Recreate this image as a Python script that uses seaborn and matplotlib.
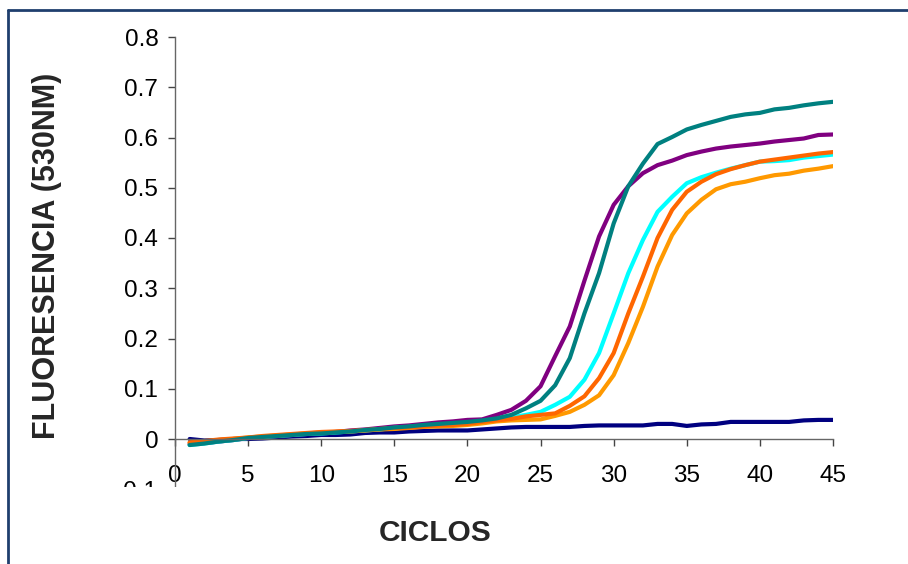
import numpy as np
import pandas as pd
import matplotlib
matplotlib.use("Agg")
import matplotlib.pyplot as plt
import seaborn as sns
from matplotlib.lines import Line2D
from matplotlib.patches import Rectangle

ciclos = list(range(1, 46))

# lecturas de fluorescencia (530 nm) por ciclo
navy = [0.000, -0.003, -0.002, 0.000, 0.000, 0.001, 0.003, 0.005, 0.006, 0.008,
        0.008, 0.009, 0.012, 0.013, 0.013, 0.015, 0.016, 0.017, 0.017, 0.017,
        0.019, 0.021, 0.023, 0.024, 0.024, 0.024, 0.024, 0.026, 0.027, 0.027,
        0.027, 0.027, 0.030, 0.030, 0.026, 0.029, 0.030, 0.034, 0.034, 0.034,
        0.034, 0.034, 0.037, 0.038, 0.038]
purpura = [-0.010, -0.008, -0.005, -0.002, 0.002, 0.004, 0.006, 0.008, 0.010, 0.012,
           0.014, 0.017, 0.019, 0.022, 0.025, 0.027, 0.030, 0.033, 0.035, 0.038,
           0.039, 0.048, 0.058, 0.076, 0.105, 0.165, 0.224, 0.315, 0.403, 0.466,
           0.503, 0.529, 0.545, 0.554, 0.565, 0.572, 0.578, 0.582, 0.585, 0.588,
           0.592, 0.595, 0.598, 0.605, 0.606]
cian = [-0.012, -0.009, -0.005, -0.002, 0.002, 0.004, 0.006, 0.008, 0.010, 0.011,
        0.013, 0.015, 0.017, 0.019, 0.022, 0.024, 0.026, 0.028, 0.030, 0.032,
        0.035, 0.039, 0.043, 0.048, 0.054, 0.068, 0.084, 0.118, 0.171, 0.250,
        0.330, 0.396, 0.452, 0.482, 0.509, 0.521, 0.530, 0.538, 0.545, 0.552,
        0.553, 0.555, 0.560, 0.563, 0.566]
naranja = [-0.007, -0.005, -0.002, 0.000, 0.003, 0.005, 0.007, 0.009, 0.011, 0.013,
           0.014, 0.015, 0.017, 0.019, 0.020, 0.022, 0.024, 0.025, 0.026, 0.028,
           0.031, 0.035, 0.037, 0.038, 0.039, 0.046, 0.054, 0.068, 0.087, 0.127,
           0.191, 0.263, 0.343, 0.406, 0.449, 0.476, 0.497, 0.507, 0.512, 0.519,
           0.525, 0.528, 0.534, 0.538, 0.543]
naranja_rojo = [-0.007, -0.004, -0.001, 0.001, 0.003, 0.006, 0.008, 0.010, 0.012, 0.014,
                0.015, 0.016, 0.018, 0.020, 0.022, 0.023, 0.025, 0.027, 0.028, 0.030,
                0.034, 0.037, 0.040, 0.045, 0.048, 0.051, 0.066, 0.085, 0.121, 0.171,
                0.250, 0.323, 0.400, 0.456, 0.492, 0.512, 0.527, 0.537, 0.545, 0.552,
                0.556, 0.560, 0.564, 0.568, 0.571]
verde_azul = [-0.012, -0.009, -0.005, -0.002, 0.002, 0.004, 0.006, 0.008, 0.010, 0.011,
              0.013, 0.015, 0.018, 0.020, 0.023, 0.025, 0.028, 0.030, 0.032, 0.034,
              0.037, 0.041, 0.048, 0.061, 0.076, 0.107, 0.161, 0.250, 0.330, 0.429,
              0.503, 0.548, 0.587, 0.601, 0.616, 0.625, 0.633, 0.641, 0.646, 0.649,
              0.656, 0.659, 0.664, 0.668, 0.671]

muestras = ['M1', 'M2', 'M3', 'M4', 'M5', 'M6']
colores = ['#000080', '#800080', '#00FFFF', '#FF9900', '#FF6600', '#008080']
xticks = [0, 5, 10, 15, 20, 25, 30, 35, 40, 45]
yticks = [-0.1, 0, 0.1, 0.2, 0.3, 0.4, 0.5, 0.6, 0.7, 0.8]
ytick_labels = ['-0.1', '0', '0.1', '0.2', '0.3', '0.4', '0.5', '0.6', '0.7', '0.8']

series = [navy, purpura, cian, naranja, naranja_rojo, verde_azul]
df = pd.DataFrame({
    'ciclo': ciclos * len(series),
    'fluor': np.concatenate(series),
    'muestra': np.repeat(muestras, len(ciclos)),
})

sns.set_style("white")
plt.rcParams['font.family'] = ['Liberation Sans', 'DejaVu Sans']

fig = plt.figure(figsize=(9.08, 5.64), dpi=100)
ax = fig.add_axes([175 / 908, (564 - 489.25) / 564, 658 / 908, 452.25 / 564])

sns.lineplot(data=df, x='ciclo', y='fluor', hue='muestra', hue_order=muestras,
             palette=colores, linewidth=3.0, legend=False, ax=ax)

ax.set_xlim(0, 45)
ax.set_ylim(-0.1, 0.8)
ax.set_xticks(xticks)
ax.set_xticklabels([str(t) for t in xticks])
ax.set_yticks(yticks)
ax.set_yticklabels(ytick_labels)

for s in ['top', 'right']:
    ax.spines[s].set_visible(False)
ax.spines['bottom'].set_position(('data', 0))
for s in ['left', 'bottom']:
    ax.spines[s].set_color('#666666')
    ax.spines[s].set_linewidth(1.0)

ax.tick_params(axis='both', direction='out', length=5, width=1, color='#444444',
               labelsize=17.5, labelcolor='black')
ax.tick_params(axis='x', pad=14, bottom=True)
ax.tick_params(axis='y', pad=7, left=True)

ax.set_xlabel('CICLOS', fontsize=21.5, fontweight='bold')
ax.set_ylabel('FLUORESENCIA (530NM)', fontsize=22, fontweight='bold')
ax.xaxis.set_label_coords(0.396, -0.066)
ax.yaxis.set_label_coords(-0.172, 0.517)

# recorte inferior del area del grafico (como en Excel)
fig.add_artist(Rectangle((90 / 908, (564 - 510) / 564), 90 / 908, 23.5 / 564,
                         transform=fig.transFigure, facecolor='white',
                         edgecolor='none', zorder=10))

# marco azul oscuro
marco = '#1F3F6E'
fig.add_artist(Line2D([8 / 908, 1.0], [1 - 10 / 564, 1 - 10 / 564],
                      transform=fig.transFigure, color=marco, linewidth=2))
fig.add_artist(Line2D([8 / 908, 8 / 908], [0.0, 1 - 10 / 564],
                      transform=fig.transFigure, color=marco, linewidth=2))

fig.savefig('out.png', dpi=100)
